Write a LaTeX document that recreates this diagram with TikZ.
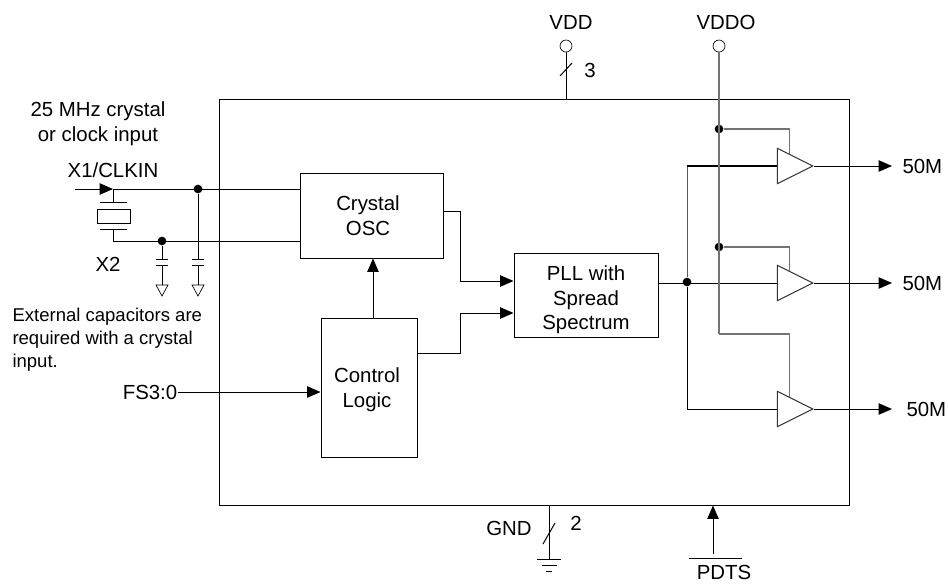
\documentclass[tikz,border=0pt]{standalone}
\usepackage{fontspec}
\setmainfont{Liberation Sans}
\usetikzlibrary{arrows.meta}
\usetikzlibrary{calc}
\usetikzlibrary{shapes.geometric}

\begin{document}
\begin{tikzpicture}[
                x=0.75pt, y=-0.75pt, line width=0.75pt,
                every node/.style={font=\fontsize{15.3}{18.5}\selectfont, inner sep=0pt},
                block/.style={draw},
                txt/.style={align=center},
                small/.style={font=\fontsize{13.9}{17}\selectfont, align=left},
                dot/.style={circle, fill=black, minimum size=6.5pt},
                pad/.style={circle, draw, line width=0.5pt, minimum size=9pt},
                buffer/.style={isosceles triangle, isosceles triangle stretches, draw=black!80, fill=white,
                    shape border rotate=0, minimum height=26.5pt, minimum width=26.5pt},
                rail/.style={gray!90!black, line width=1pt},
                sig/.style={-{Triangle[length=10pt, width=8.5pt]}}
            ]

            \useasboundingbox (0,0) rectangle (948,583);

            \node[block, minimum width=473pt, minimum height=304.5pt] (chip) at (534.5,302) {};
            \node[block, minimum width=107.25pt, minimum height=63.75pt] (osc) at (371.5,215.5) {};
            \node[block, minimum width=108pt, minimum height=63pt] (pll) at (586,295) {};
            \node[block, minimum width=72pt, minimum height=104.25pt] (ctrl) at (369,387.5) {};
            \node[txt] (osctxt) at (368,215.5) {Crystal\\OSC};
            \node[txt] (plltxt) at (586,300) {PLL with\\Spread\\Spectrum};
            \node[txt] (ctrltxt) at (367,390) {Control\\Logic};

            % pins on top
            \node[pad] (vdd) at (566,46) {};
            \node[pad] (vddo) at (719,46) {};
            \node[txt] (vddlbl) at (571,22) {VDD};
            \node[txt] (vddolbl) at (726,22) {VDDO};
            \node[txt] (vddn) at (590,70) {3};
            \draw (vdd) -- (vdd |- chip.north);
            \draw (560,76) -- (572,63);

            % crystal and its capacitors
            \node[txt] (xtallbl) at (98,124) {25 MHz crystal\\or clock input};
            \node[txt] (x1lbl) at (113,170) {X1/CLKIN};
            \node[txt] (x2lbl) at (108,264) {X2};
            \node[small, anchor=north west] (caplbl) at (12,308) {External capacitors are\\required with a crystal\\input.};
            \node[draw, minimum width=24.75pt, minimum height=10.5pt] (xtal) at (113.5,216) {};
            \coordinate (x1) at (113,189);
            \coordinate (x2) at (113,241);
            \coordinate (x1in) at (75,189);
            \node[dot] (jx1) at (198,189) {};
            \node[dot] (jx2) at (162,241) {};
            \draw[sig] (x1in) -- (x1);
            \draw (x1) -- (113,202);
            \draw (x2) -- (113,229);
            \draw (100,202) -- (127,202);
            \draw (100,229) -- (127,229);
            \draw (x1) -- (x1 -| osc.west);
            \draw (x2) -- (x2 -| osc.west);
            \foreach \j in {jx1, jx2} {
                \draw (\j) -- (\j |- 0,259);
                \draw ($(\j |- 0,259)+(-6,0)$) -- ($(\j |- 0,259)+(6,0)$);
                \draw ($(\j |- 0,265)+(-6,0)$) -- ($(\j |- 0,265)+(6,0)$);
                \draw (\j |- 0,265) -- (\j |- 0,285);
                \draw[line width=0.5pt] ($(\j |- 0,285)+(-6,0)$) -- ($(\j |- 0,285)+(6,0)$) -- (\j |- 0,296) -- cycle;
            }

            % logic
            \node[txt] (fslbl) at (150,392) {FS3:0};
            \draw[sig] (fslbl.east) -- (fslbl.east -| ctrl.west);
            \draw[sig] (ctrl.north -| 373,0) -- (osc.south -| 373,0);
            \draw[sig] (osc.east |- 0,211) -- (460,211) -- (460,281) -- (pll.west |- 0,281);
            \draw[sig] (ctrl.east |- 0,353) -- (460,353) -- (460,313) -- (pll.west |- 0,313);

            % buffers
            \foreach \n/\y/\x in {1/166/902, 2/283/902, 3/409/906} {
                \node[buffer, anchor=apex] (buf\n) at (814,\y) {};
                \node[txt, anchor=west] (out\n) at (\x,\y) {50M};
                \draw[sig] (buf\n.apex) -- (892,\y);
            }
            \node[dot] (jclk) at (687,282) {};
            \draw (pll.east |- buf2.lower side) -- (buf2.lower side);
            \draw (jclk) |- (buf3.lower side);
            \draw[black!65] (jclk) -- (jclk |- buf1.lower side);
            \draw[line width=1.2pt] (jclk |- buf1.lower side) -- (buf1.lower side);

            % supply rail for the buffers
            \node[dot] (jv1) at (719,129) {};
            \node[dot] (jv2) at (719,247) {};
            \coordinate (jv3) at (719,334);
            \draw[rail] (vddo) -- (jv3);
            \draw[rail] (jv1) -| ($(buf1.left corner)!0.34!(buf1.apex)$);
            \draw[rail] (jv2) -| ($(buf2.left corner)!0.34!(buf2.apex)$);
            \draw[rail] (jv3) -| ($(buf3.left corner)!0.34!(buf3.apex)$);

            % bottom pins
            \node[txt] (gndlbl) at (509,528) {GND};
            \node[txt] (gndn) at (576,523) {2};
            \coordinate (gnd) at (549,559);
            \draw (gnd |- chip.south) -- (gnd);
            \draw (543,544) -- (555,523);
            \draw (537,559) -- (561,559);
            \draw (542,565) -- (557,565);
            \draw (546,571) -- (552,571);
            \node[txt] (pdts) at (724,572) {PDTS};
            \coordinate (pdtsin) at (713,554);
            \draw[sig] (pdtsin) -- (pdtsin |- chip.south);
            \draw (689,558) -- (742,558);

        \end{tikzpicture}
\end{document}
